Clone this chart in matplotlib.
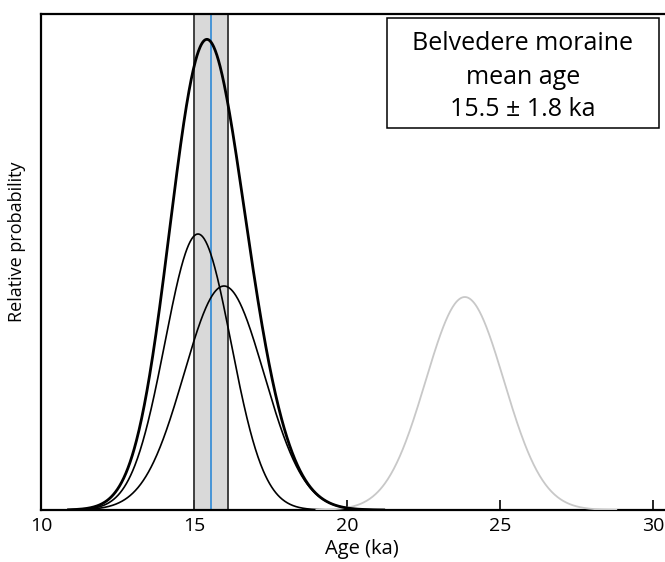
import numpy as np
import matplotlib
matplotlib.use("Agg")
import matplotlib.pyplot as plt
from matplotlib.patches import Rectangle

# Individual boulder ages (ka), 1-sigma uncertainties, and peak heights (relative)
sample_ages = [15.13, 15.98]
sample_sigmas = [1.08, 1.31]
sample_peaks = [276, 224]
outlier_age = 23.85
outlier_sigma = 1.28
outlier_peak = 213

mean_age = 15.55
band_low, band_high = 15.0, 16.1

xticks = [10, 15, 20, 25, 30]

plt.rcParams['font.family'] = ['Open Sans', 'DejaVu Sans']

W, H = 665, 562
fig = plt.figure(figsize=(W / 100, H / 100), dpi=100)
L, B, T = 41, 510, 14
x_per_unit = 30.6
x0, x1 = 10, 31
ax = fig.add_axes([L / W, (H - B) / H, (x1 - x0) * x_per_unit / W, (B - T) / H])

x = np.linspace(10.9, 21.2, 600)
curves = []
for m, s, p in zip(sample_ages, sample_sigmas, sample_peaks):
    c = p * np.exp(-0.5 * ((x - m) / s) ** 2)
    curves.append(c)

# band
ax.axvspan(band_low, band_high, facecolor='#d9d9d9', edgecolor='none', zorder=1)
ax.axvline(band_low, color='#333333', lw=1.3, zorder=2)
ax.axvline(band_high, color='#333333', lw=1.3, zorder=2)
ax.axvline(mean_age, color='#3b8fd6', lw=1.3, zorder=2)

for c in curves:
    ax.plot(x, c, color='black', lw=1.2, zorder=3)
ax.plot(x, np.sum(curves, axis=0), color='black', lw=2.0, zorder=4)

xo = np.linspace(19.0, 28.8, 400)
ax.plot(xo, outlier_peak * np.exp(-0.5 * ((xo - outlier_age) / outlier_sigma) ** 2),
        color='#c8c8c8', lw=1.3, zorder=3)

ax.set_xlim(x0, x1)
ax.set_ylim(0, B - T)
ax.set_xticks(xticks)
ax.set_xticklabels([str(t) for t in xticks], fontsize=14)
ax.set_yticks([])
ax.tick_params(axis='x', direction='in', length=7, width=1.2, pad=5)
for sp in ['left', 'bottom', 'top', 'right']:
    ax.spines[sp].set_linewidth(1.6)
ax.set_xlabel('Age (ka)', fontsize=14.5, labelpad=3)
ax.set_ylabel('Relative probability', fontsize=13, labelpad=8)
ax.yaxis.set_label_coords(-0.023, 0.54)

# annotation box
bx0, bx1, by0, by1 = 387, 659, 18, 128
fig.patches.append(Rectangle((bx0 / W, 1 - by1 / H), (bx1 - bx0) / W, (by1 - by0) / H,
                             transform=fig.transFigure, facecolor='white',
                             edgecolor='black', lw=1.1, zorder=10))
cx = (bx0 + bx1) / 2 / W
for txt, yy in [('Belvedere moraine', 43), ('mean age', 77), ('15.5 ± 1.8 ka', 109)]:
    fig.text(cx, 1 - yy / H, txt, ha='center', va='center', fontsize=18, zorder=11)

fig.savefig('out.png', dpi=100)
